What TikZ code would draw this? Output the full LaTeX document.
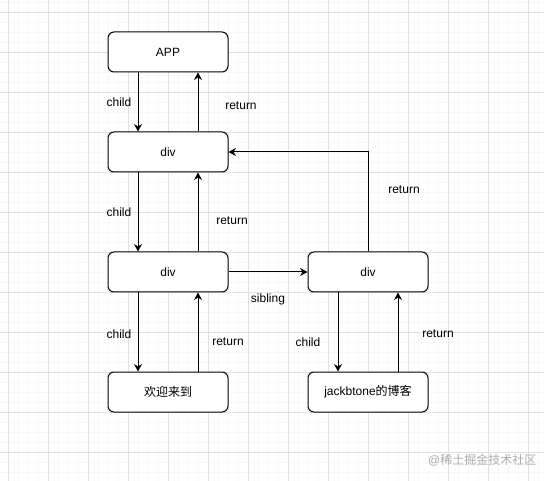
\documentclass[tikz,border=0pt]{standalone}
\usepackage{fontspec}
\setmainfont{Liberation Sans}
\newfontfamily\cjk{Noto Sans CJK SC}
\usepackage{tikz}
\usetikzlibrary{arrows.meta, positioning, calc}
\definecolor{gridminor}{HTML}{F7F7F7}
\definecolor{gridmajor}{HTML}{E0E0E0}
\definecolor{markgray}{HTML}{ABABAB}
\tikzset{
  fiberbox/.style={draw=black, line width=1pt, rounded corners=6pt, fill=white,
    minimum width=120pt, minimum height=40pt, inner sep=0pt, font=\fontsize{12}{14}\selectfont},
  linkarrow/.style={draw=black, line width=1pt, -{Stealth[length=7.5pt, width=8pt, inset=2.5pt]}},
  linklabel/.style={font=\fontsize{12}{14}\selectfont, inner sep=0pt}
}
\newcommand{\drawgrid}{%
  \foreach \i in {-2,...,54} {
    \draw[gridminor, line width=0.5pt] (8+\i*10,0) -- (8+\i*10,481);
  }
  \foreach \i in {-1,...,48} {
    \draw[gridminor, line width=0.5pt] (0,12+\i*10) -- (544,12+\i*10);
  }
  \foreach \i in {0,...,13} {
    \draw[gridmajor, line width=0.6pt] (8+\i*40,0) -- (8+\i*40,481);
  }
  \foreach \i in {0,...,11} {
    \draw[gridmajor, line width=0.6pt] (0,12+\i*40) -- (544,12+\i*40);
  }%
}

\begin{document}
\begin{tikzpicture}[x=1pt, y=-1pt]
    \useasboundingbox[fill=white] (0,0) rectangle (544,481);
    \drawgrid

    % fiber nodes
    \node[fiberbox] (app) at (168,52) {APP};
    \node[fiberbox] (divA) at (168,152) {div};
    \node[fiberbox] (divB) at (168,272) {div};
    \node[fiberbox] (divC) at (368,272) {div};
    \node[fiberbox] (welcome) at (168,392) {\cjk 欢迎来到};
    \node[fiberbox] (blog) at (368,392) {jackbtone{\cjk 的博客}};

    % child / return links
    \draw[linkarrow] ([xshift=-30pt]app.south) -- ([xshift=-30pt]divA.north);
    \draw[linkarrow] ([xshift=30pt]divA.north) -- ([xshift=30pt]app.south);
    \draw[linkarrow] ([xshift=-30pt]divA.south) -- ([xshift=-30pt]divB.north);
    \draw[linkarrow] ([xshift=30pt]divB.north) -- ([xshift=30pt]divA.south);
    \draw[linkarrow] ([xshift=-30pt]divB.south) -- ([xshift=-30pt]welcome.north);
    \draw[linkarrow] ([xshift=30pt]welcome.north) -- ([xshift=30pt]divB.south);
    \draw[linkarrow] ([xshift=-30pt]divC.south) -- ([xshift=-30pt]blog.north);
    \draw[linkarrow] ([xshift=30pt]blog.north) -- ([xshift=30pt]divC.south);

    % sibling and return to parent
    \draw[linkarrow] (divB.east) -- (divC.west);
    \draw[linkarrow] (divC.north) |- (divA.east);

    % labels
    \node[linklabel] (lchildA) at (119,102) {child};
    \node[linklabel] (lretA) at (241,106) {return};
    \node[linklabel] (lchildB) at (119,212) {child};
    \node[linklabel] (lretB) at (232,221) {return};
    \node[linklabel] (lsib) at (268,299) {sibling};
    \node[linklabel] (lretC) at (404,190) {return};
    \node[linklabel] (lchildC) at (119,334) {child};
    \node[linklabel] (lretD) at (228,342) {return};
    \node[linklabel] (lchildD) at (308,342) {child};
    \node[linklabel] (lretE) at (438,334) {return};

    % site mark
    \node[linklabel, text=markgray, anchor=west] (sitemark) at (428,460) {@{\cjk 稀土掘金技术社区}};
  \end{tikzpicture}
\end{document}
